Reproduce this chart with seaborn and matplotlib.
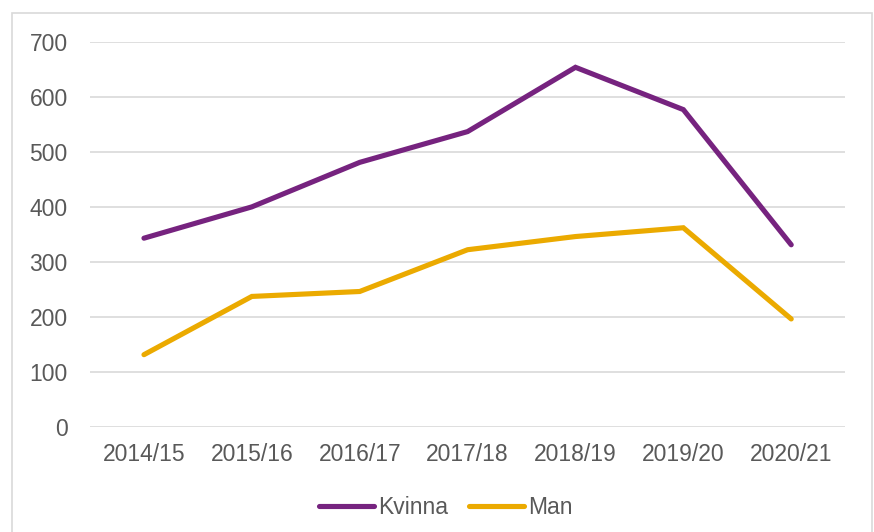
import matplotlib
matplotlib.use("Agg")
import matplotlib.pyplot as plt
import seaborn as sns
import pandas as pd
from matplotlib.patches import Rectangle
from matplotlib.lines import Line2D

years = ["2014/15", "2015/16", "2016/17", "2017/18", "2018/19", "2019/20", "2020/21"]
kvinna = [343, 400, 481, 537, 654, 577, 331]
man = [131, 237, 246, 322, 346, 362, 196]
series_names = ["Kvinna", "Man"]
colors = {"Kvinna": "#76237F", "Man": "#EBAA00"}

df = pd.DataFrame({
    "year": years * 2,
    "value": kvinna + man,
    "series": [series_names[0]] * len(years) + [series_names[1]] * len(years),
})

sns.set_theme(style="white")
plt.rcParams["font.family"] = ["Liberation Sans", "DejaVu Sans"]

fig = plt.figure(figsize=(8.74, 5.32), dpi=100)
ax = fig.add_axes([0.103, 0.198, 0.864, 0.723])

sns.lineplot(data=df, x="year", y="value", hue="series", palette=colors,
             linewidth=3.7, sort=False, ax=ax, legend=False,
             solid_capstyle="round", solid_joinstyle="miter")

ax.set_xlim(-0.5, len(years) - 0.5)
ax.set_ylim(0, 700)
ax.set_yticks(range(0, 701, 100))
ax.set_xticks(range(len(years)))
ax.set_xticklabels(years)
ax.yaxis.grid(True, color="#D9D9D9", linewidth=1.2)
ax.set_axisbelow(True)
for s in ax.spines.values():
    s.set_visible(False)
ax.tick_params(axis="both", length=0, labelsize=16.5, labelcolor="#595959")
ax.tick_params(axis="y", pad=16)
ax.tick_params(axis="x", pad=12)
ax.set_xlabel("")
ax.set_ylabel("")

handles = [Line2D([0], [0], color=colors[n], linewidth=3.7, solid_capstyle="round") for n in series_names]
fig.legend(handles, series_names, loc="center", bbox_to_anchor=(0.51, 0.046), ncol=2,
           frameon=False, fontsize=16.5, handlelength=2.4, handletextpad=0.2,
           columnspacing=0.9, labelcolor="#595959")

fig.patches.append(Rectangle((12 / 874, -0.05), (872 - 12) / 874, 1 - 13 / 532 + 0.05,
                             transform=fig.transFigure, fill=False,
                             edgecolor="#D9D9D9", linewidth=1.2))

fig.savefig("out.png", dpi=100)
